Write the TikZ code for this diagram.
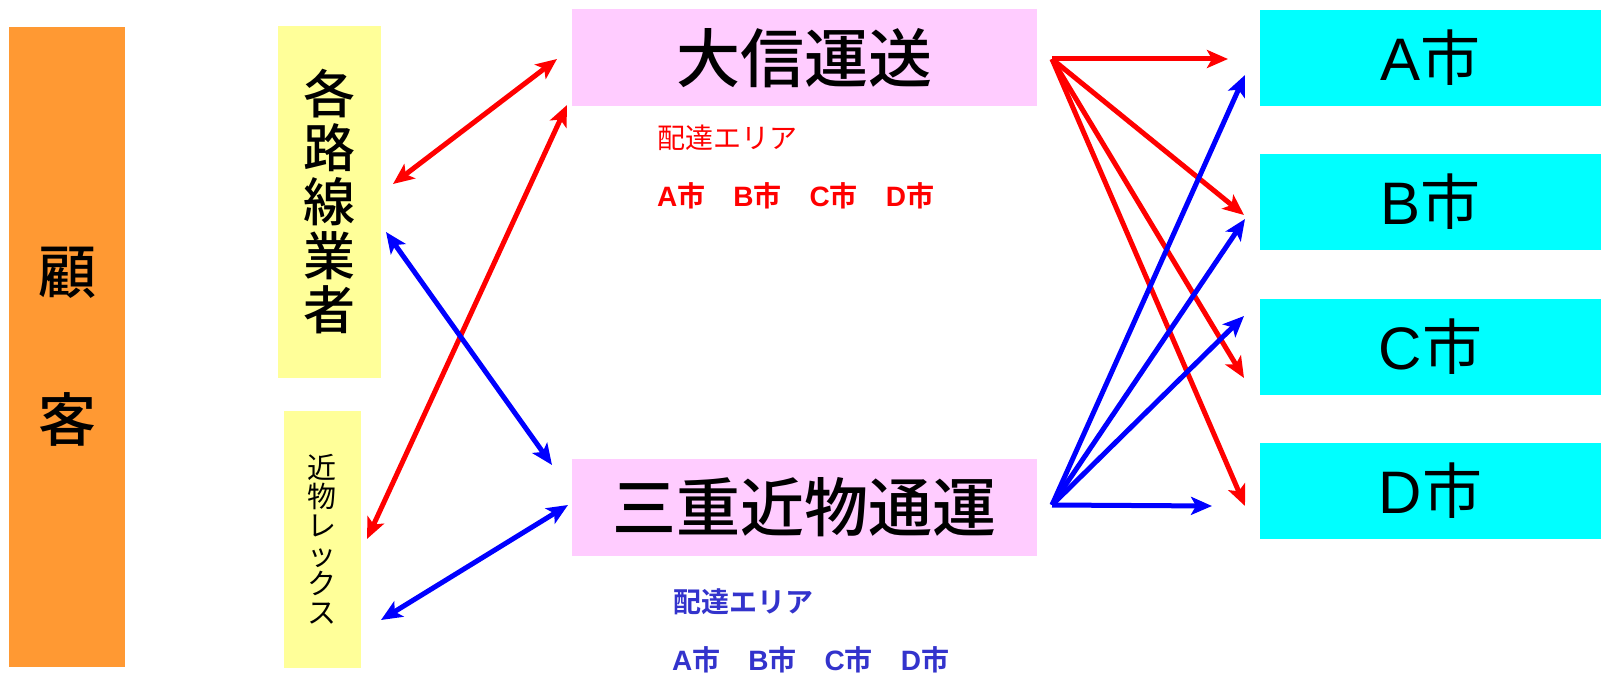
\documentclass[tikz,border=0pt]{standalone}
\usepackage{fontspec}
\setmainfont{Noto Sans CJK JP}[BoldFont={Noto Sans CJK JP Bold}]
\newfontfamily\medfont{Noto Sans CJK JP Medium}
\newfontfamily\latinfont{Liberation Sans}
\usepackage{tikz}
\usetikzlibrary{arrows.meta}
\definecolor{custorange}{RGB}{255,153,51}
\definecolor{lineyellow}{RGB}{255,255,153}
\definecolor{carrierpink}{RGB}{255,204,255}
\definecolor{citycyan}{RGB}{0,255,255}
\definecolor{areablue}{RGB}{51,51,204}
\newcommand{\shi}[1]{{\latinfont #1}市}
\newcommand{\shilist}{\shi{A}　\shi{B}　\shi{C}　\shi{D}}

\begin{document}
\begin{tikzpicture}[x=1pt,y=-1pt]
\tikzstyle{every node}+=[inner sep=0pt]
\tikzstyle{panel}=[rectangle, align=center]
\tikzstyle{citybox}=[panel, fill=citycyan, minimum width=341, minimum height=96, font=\fontsize{60}{66}\selectfont]
\tikzstyle{carrier}=[panel, fill=carrierpink, minimum width=465, minimum height=97, font=\fontsize{64}{70}\selectfont\medfont]
\tikzstyle{tip}=[line width=5pt, >={Stealth[length=21pt,width=18pt,inset=5pt]}]
\tikzstyle{redarr}=[tip, red, ->]
\tikzstyle{bluearr}=[tip, blue, ->]
\tikzstyle{redboth}=[tip, red, <->]
\tikzstyle{blueboth}=[tip, blue, <->]
\useasboundingbox (0,0) rectangle (1601,674);
\node (kokyaku) [panel, fill=custorange, minimum width=116, minimum height=640, font=\fontsize{58}{148}\selectfont\medfont] at (67,347) {顧\\客};
\node (gyosha) [panel, fill=lineyellow, minimum width=103, minimum height=352, font=\fontsize{52}{54}\selectfont\medfont] at (329.5,202) {各\\路\\線\\業\\者};
\node (rex) [panel, fill=lineyellow, minimum width=77, minimum height=257, font=\fontsize{29}{29}\selectfont] at (322,539) {近\\物\\レ\\ッ\\ク\\ス};
\node (daishin) [carrier] at (804.5,58) {大信運送};
\node (sanju) [carrier] at (804.5,507) {三重近物通運};
\node (cityA) [citybox] at (1430.5,58) {\shi{A}};
\node (cityB) [citybox] at (1430.5,202) {\shi{B}};
\node (cityC) [citybox] at (1430.5,347) {\shi{C}};
\node (cityD) [citybox] at (1430.5,491) {\shi{D}};
\node (dArea) [anchor=west, text=red, font=\fontsize{28}{30}\selectfont] at (657,138) {配達エリア};
\node (dList) [anchor=west, text=red, font=\fontsize{28}{30}\selectfont\bfseries] at (657,196) {\shilist};
\node (mArea) [anchor=west, text=areablue, font=\fontsize{28}{30}\selectfont\bfseries] at (673,602) {配達エリア};
\node (mList) [anchor=west, text=areablue, font=\fontsize{28}{30}\selectfont\bfseries] at (672,660) {\shilist};
\coordinate (dL1) at (393,184);
\coordinate (dR1) at (557,59);
\coordinate (dL2) at (367,539);
\coordinate (dR2) at (567,105);
\coordinate (mL1) at (386,232);
\coordinate (mR1) at (552,465);
\coordinate (mL2) at (381,620);
\coordinate (mR2) at (568,505);
\coordinate (dOut) at (1052,59);
\coordinate (mOut) at (1052,505);
\coordinate (dA) at (1228,59);
\coordinate (dB) at (1244,215);
\coordinate (dC) at (1244,378);
\coordinate (dD) at (1245,506);
\coordinate (mA) at (1245,75);
\coordinate (mB) at (1245,219);
\coordinate (mC) at (1244,316);
\coordinate (mD) at (1212,506);
\draw [redboth] (dL1) -- (dR1);
\draw [redboth] (dL2) -- (dR2);
\draw [blueboth] (mL1) -- (mR1);
\draw [blueboth] (mL2) -- (mR2);
\draw [redarr] (dOut) -- (dA);
\draw [redarr] (dOut) -- (dB);
\draw [redarr] (dOut) -- (dC);
\draw [redarr] (dOut) -- (dD);
\draw [bluearr] (mOut) -- (mA);
\draw [bluearr] (mOut) -- (mB);
\draw [bluearr] (mOut) -- (mC);
\draw [bluearr] (mOut) -- (mD);
\end{tikzpicture}
\end{document}
